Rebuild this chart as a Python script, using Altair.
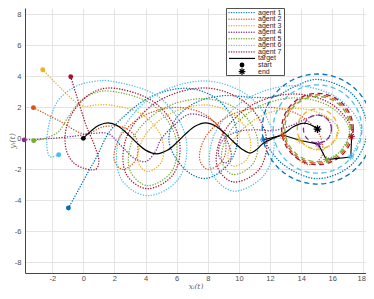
import numpy as np
import pandas as pd
import altair as alt

AGENTS = ["agent 1", "agent 2", "agent 3", "agent 4", "agent 5", "agent 6", "agent 7"]
COLORS = ["#0072BD", "#D95319", "#EDB120", "#7E2F8E", "#77AC30", "#4DBEEE", "#A2142F"]

# trajectories (first point = start, last point = end)
a1_x = [-0.96, -0.32, 0.32, 0.86, 1.61, 2.7, 4.0, 5.5, 7.0, 8.5, 9.6, 9.9, 9.3, 7.93, 6.85, 5.9, 5.5, 5.9, 7.2, 9.0, 10.8, 12.3, 13.6, 15.05, 17.3, 18.25, 17.3, 15.05, 12.8, 11.57]
a1_y = [-4.5, -3.34, -2.15, -1.19, 0.32, 1.5, 2.5, 3.1, 3.2, 2.6, 1.3, -0.2, -1.7, -2.58, -2.26, -1.2, -0.1, 1.2, 2.3, 2.75, 2.65, 2.7, 3.35, 3.8, 2.85, 0.6, -1.65, -2.6, -1.65, -0.1]

a2_x = [-3.21, -1.5, 0.11, 1.3, 2.6, 3.4, 3.36, 2.5, 1.99, 2.3, 3.79, 6.1, 8.01, 9.1, 8.96, 8.0, 7.49, 7.8, 9.29, 11.6, 13.8, 15.2, 15.32, 14.5, 13.46, 12.83]
a2_y = [1.98, 1.1, 0.28, 0.75, 0.7, 0.0, -1.41, -2.0, -1.41, 0.0, 1.41, 2.0, 1.41, 0.0, -1.41, -2.0, -1.41, 0.0, 1.41, 2.0, 1.55, 0.2, -1.17, -1.7, -0.99, 0.21]

a3_x = [-2.61, -1.4, -0.1, 0.8, 1.7, 3.82, 5.05, 5.02, 4.1, 3.53, 3.85, 5.43, 7.9, 9.76, 10.72, 10.53, 9.6, 9.29, 9.88, 11.42, 13.5, 15.35, 16.4, 16.0, 15.05, 14.1, 13.9]
a3_y = [4.43, 3.2, 2.1, 2.15, 2.15, 1.52, 0.0, -1.52, -2.15, -1.52, 0.0, 1.52, 2.15, 1.46, 0.0, -1.33, -1.79, -1.11, 0.2, 1.43, 1.94, 1.55, 0.6, -0.35, -0.75, -0.35, -0.12]

a4_x = [-3.8, -2.0, -0.5, 0.5, 1.6, 2.4, 3.3, 4.0, 4.6, 5.0, 5.9, 6.8, 7.8, 8.7, 9.3, 9.5, 9.1, 8.7, 8.9, 9.8, 11.0, 12.2, 13.3, 14.2, 15.05, 15.7, 15.95, 15.7, 15.1]
a4_y = [-0.1, 0.0, 0.15, 0.3, 0.3, -0.45, -1.3, -1.5, -0.9, -0.05, 0.9, 1.55, 1.4, 0.8, -0.3, -1.2, -1.6, -1.1, -0.2, 0.4, 0.55, 0.5, 0.8, 1.2, 1.5, 1.25, 0.6, -0.05, -0.38]

a5_x = [-3.19, -2.46, -1.6, -0.96, -0.1, 0.8, 1.7, 4.46, 5.95, 5.66, 4.1, 2.99, 3.2, 5.06, 7.9, 10.06, 11.19, 10.88, 9.6, 8.9, 9.28, 10.97, 13.5, 15.85, 17.1, 16.5, 15.62]
a5_y = [-0.15, 0.0, 0.43, 1.4, 2.47, 2.95, 3.05, 2.16, 0.0, -2.16, -3.05, -2.06, 0.0, 1.89, 2.55, 1.76, 0.0, -1.68, -2.33, -1.5, 0.2, 1.88, 2.61, 2.05, 0.6, -0.85, -1.37]

a6_x = [-1.58, -2.14, -2.35, -2.14, -1.6, -0.53, 0.54, 1.7, 4.92, 6.6, 6.12, 4.1, 2.43, 2.3, 4.33, 7.9, 10.85, 12.25, 11.6, 9.6, 8.24, 8.4, 10.38, 13.5, 16.38, 17.85, 17.19]
a6_y = [-1.06, -1.19, -0.3, 1.18, 2.47, 3.33, 3.65, 3.7, 2.62, 0.0, -2.62, -3.7, -2.62, 0.0, 2.62, 3.7, 2.55, 0.0, -2.4, -3.4, -2.16, 0.2, 2.47, 3.4, 2.58, 0.6, -1.2]

a7_x = [-0.81, -0.21, 0.21, 0.75, 1.0, 0.8, 0.1, -0.6, -1.05, -1.18, -1.0, -0.43, 0.5, 1.7, 4.6, 6.15, 5.8, 4.1, 2.75, 2.75, 4.65, 7.9, 10.52, 11.78, 11.26, 9.6, 8.6, 8.92, 10.75, 13.5, 15.99, 17.3, 17.25]
a7_y = [3.97, 2.04, 0.75, -0.54, -1.5, -2.0, -1.95, -1.6, -0.9, 0.0, 1.0, 2.04, 2.9, 3.25, 2.3, 0.0, -2.3, -3.25, -2.3, 0.0, 2.3, 3.25, 2.22, 0.0, -2.06, -2.81, -1.8, 0.2, 2.1, 2.86, 2.19, 0.6, 0.13]

target_x = [0, 0.5, 1.0, 1.6, 2.2, 2.8, 3.4, 4.0, 4.7, 5.4, 6.0, 6.6, 7.2, 7.85, 8.5, 9.1, 9.7, 10.2, 10.71, 11.1, 11.57, 12.2, 12.85, 13.5, 14.1, 14.6, 15.05]
target_y = [0, 0.48, 0.84, 1.0, 0.81, 0.33, -0.26, -0.76, -1.0, -0.77, -0.28, 0.31, 0.79, 1.0, 0.8, 0.32, -0.27, -0.7, -0.95, -0.75, -0.32, 0.0, 0.28, 0.75, 0.97, 0.88, 0.6]

# final orbit radii around the target's end point
orbit_r = [3.55, 2.2, 1.3, 0.9, 2.1, 2.85, 2.3]

X_TICKS = [-2, 0, 2, 4, 6, 8, 10, 12, 14, 16, 18]
Y_TICKS = [-8, -6, -4, -2, 0, 2, 4, 6, 8]
X_DOMAIN = [-3.75, 18.17]
Y_DOMAIN = [-8.69, 8.41]
LEGEND_LABELS = AGENTS + ["target", "start", "end"]

ASTERISK = "M0,-1L0,1M-1,0L1,0M-0.7,-0.7L0.7,0.7M-0.7,0.7L0.7,-0.7"

xs = [a1_x, a2_x, a3_x, a4_x, a5_x, a6_x, a7_x]
ys = [a1_y, a2_y, a3_y, a4_y, a5_y, a6_y, a7_y]

traj = pd.DataFrame([
    {"agent": AGENTS[k], "i": i, "x": x, "y": y}
    for k in range(7) for i, (x, y) in enumerate(zip(xs[k], ys[k]))
])
starts = pd.DataFrame([{"agent": AGENTS[k], "x": xs[k][0], "y": ys[k][0]} for k in range(7)])
ends = pd.DataFrame([{"agent": AGENTS[k], "i": k, "x": xs[k][-1], "y": ys[k][-1]} for k in range(7)])
target = pd.DataFrame({"i": range(len(target_x)), "x": target_x, "y": target_y})
t_start = target.iloc[[0]]
t_end = target.iloc[[-1]]

cx, cy = target_x[-1], target_y[-1]
ang = np.linspace(0, 2 * np.pi, 145)
circ = pd.DataFrame([
    {"agent": AGENTS[k], "i": j, "x": cx + orbit_r[k] * np.cos(a), "y": cy + orbit_r[k] * np.sin(a)}
    for k in range(7) for j, a in enumerate(ang)
])

xscale = alt.Scale(domain=X_DOMAIN, nice=False, zero=False)
yscale = alt.Scale(domain=Y_DOMAIN, nice=False, zero=False)
cscale = alt.Scale(domain=AGENTS, range=COLORS)

xaxis = alt.Axis(values=X_TICKS, title="xᵢ(t)", grid=True, ticks=False, labelExpr="'' + datum.value",
                 labelPadding=1.5, labelFlush=4, labelFlushOffset=2,
                 titleFont="DejaVu Serif", titleFontStyle="italic", titleFontWeight="normal",
                 titleFontSize=7.5, titleColor="#666666", titlePadding=0)
yaxis = alt.Axis(values=Y_TICKS, title="yᵢ(t)", grid=True, ticks=False, labelExpr="'' + datum.value",
                 labelPadding=4,
                 titleFont="DejaVu Serif", titleFontStyle="italic", titleFontWeight="normal",
                 titleFontSize=8, titleColor="#666666", titleX=-9)

X = alt.X("x:Q", scale=xscale, axis=xaxis)
Y = alt.Y("y:Q", scale=yscale, axis=yaxis)
C = alt.Color("agent:N", scale=cscale, legend=None)

lines = alt.Chart(traj).mark_line(interpolate="catmull-rom", strokeDash=[0.1, 2.6], strokeWidth=1.4,
                                  strokeCap="round").encode(x=X, y=Y, color=C, order="i:Q")
circles = alt.Chart(circ).mark_line(strokeDash=[5, 3.5], strokeWidth=1.3).encode(
    x=X, y=Y, color=C, order="i:Q")
tline = alt.Chart(target).mark_line(interpolate="catmull-rom", color="black", strokeWidth=1.2).encode(
    x=X, y=Y, order="i:Q")
chain = alt.Chart(ends).mark_line(color="black", strokeWidth=1.1).encode(x=X, y=Y, order="i:Q")
start_pts = alt.Chart(starts).mark_point(filled=True, size=24, opacity=1).encode(x=X, y=Y, color=C)
tstart = alt.Chart(t_start).mark_point(filled=True, size=24, opacity=1, color="black").encode(x=X, y=Y)
end_pts = alt.Chart(ends).mark_point(shape=ASTERISK, filled=False, size=45, strokeWidth=1, opacity=1).encode(
    x=X, y=Y, color=C)
tend = alt.Chart(t_end).mark_point(shape=ASTERISK, filled=False, size=60, strokeWidth=1.3, opacity=1,
                                   color="black").encode(x=X, y=Y)

# legend box (pixel positions inside the plot area)
leg = pd.DataFrame({"label": LEGEND_LABELS, "row": range(len(LEGEND_LABELS))})
leg["py"] = 4.6 + 6.55 * leg["row"]
leg_agents = leg[leg["row"] < 7].assign(agent=AGENTS)
box = alt.Chart(pd.DataFrame({"a": [0]})).mark_rect(fill="white", stroke="#262626", strokeWidth=0.8).encode(
    x=alt.value(201.5), x2=alt.value(259.5), y=alt.value(0.5), y2=alt.value(67.5))
leg_lines = alt.Chart(leg_agents).mark_rule(strokeDash=[0.1, 2.4], strokeWidth=1.4, strokeCap="round").encode(
    x=alt.value(204), x2=alt.value(230), y=alt.Y("py:Q", scale=None), color=C)
leg_target = alt.Chart(leg[leg["label"] == "target"]).mark_rule(color="black", strokeWidth=1.2).encode(
    x=alt.value(204), x2=alt.value(230), y=alt.Y("py:Q", scale=None))
leg_start = alt.Chart(leg[leg["label"] == "start"]).mark_point(filled=True, size=24, opacity=1, color="black").encode(
    x=alt.value(217), y=alt.Y("py:Q", scale=None))
leg_end = alt.Chart(leg[leg["label"] == "end"]).mark_point(shape=ASTERISK, filled=False, size=45, strokeWidth=1.2,
                                                          opacity=1, color="black").encode(
    x=alt.value(217), y=alt.Y("py:Q", scale=None))
leg_text = alt.Chart(leg).mark_text(align="left", baseline="middle", fontSize=7, font="Liberation Sans",
                                    color="#262626").encode(
    x=alt.value(233), y=alt.Y("py:Q", scale=None), text="label:N")

chart = alt.layer(
    lines, circles, tline, chain, start_pts, tstart, end_pts, tend,
    box, leg_lines, leg_target, leg_start, leg_end, leg_text
).properties(
    width=341, height=265,
    padding={"left": 17, "top": 0, "right": 0, "bottom": 16},
    autosize=alt.AutoSizeParams(type="none"),
).configure_view(stroke=None).configure_axis(
    gridColor="#e4e4e4", gridWidth=1, domainColor="#444444", domainWidth=1,
    labelFont="Liberation Sans", labelFontSize=7.5, labelColor="#4d4d4d",
)

chart.save("out.html", embed_options={"renderer": "svg", "actions": False})
